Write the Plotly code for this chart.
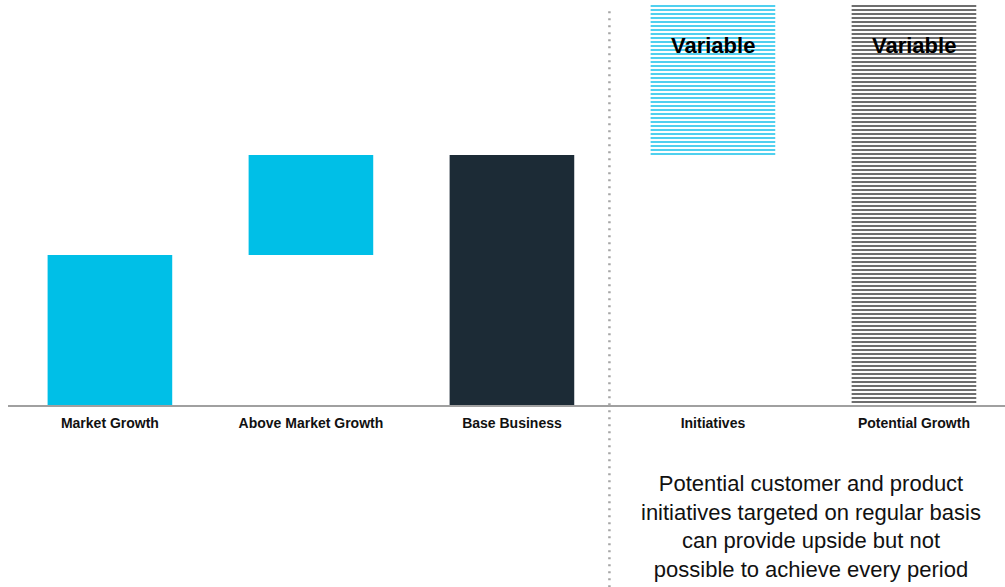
import plotly.graph_objects as go

categories = ["Market Growth", "Above Market Growth", "Base Business", "Initiatives", "Potential Growth"]
bar_bases = [0, 3, 0, 5, 0]
bar_values = [3, 2, 5, 3, 8]
solid_colors = {"Market Growth": "#00BFE7", "Above Market Growth": "#00BFE7", "Base Business": "#1C2B36"}
pattern_colors = {"Initiatives": "#3CCBEE", "Potential Growth": "#5E5E5E"}
variable_labels = ["", "", "", "Variable", "Variable"]
note_lines = [
    "Potential customer and product",
    "initiatives targeted on regular basis",
    "can provide upside but not",
    "possible to achieve every period",
]

FONT = "Liberation Sans, Arial, sans-serif"
x_range = [-0.507, 4.453]
y_range = [0, 8.1]

fig = go.Figure()

solid_x = [c for c in categories if c in solid_colors]
fig.add_trace(go.Bar(
    x=solid_x,
    y=[bar_values[categories.index(c)] for c in solid_x],
    base=[bar_bases[categories.index(c)] for c in solid_x],
    width=0.62,
    marker=dict(color=[solid_colors[c] for c in solid_x], line=dict(width=0)),
    hoverinfo="skip",
))

for c, fg in pattern_colors.items():
    i = categories.index(c)
    fig.add_trace(go.Bar(
        x=[c], y=[bar_values[i]], base=[bar_bases[i]],
        width=0.62,
        marker=dict(
            color="#FFFFFF",
            line=dict(width=0),
            pattern=dict(shape="-", fgcolor=fg, bgcolor="#FFFFFF",
                         size=4, solidity=0.45, fillmode="replace"),
        ),
        hoverinfo="skip",
    ))

for cat, b, v, lab in zip(categories, bar_bases, bar_values, variable_labels):
    if lab:
        fig.add_annotation(
            x=cat, y=b + v, text=lab, showarrow=False,
            yanchor="middle", yshift=-40,
            font=dict(family=FONT, size=22, color="#000000", weight="bold"),
        )

# dotted separator between base business and initiatives
sep_x = (2.485 - x_range[0]) / (x_range[1] - x_range[0])
fig.add_shape(
    type="line", xref="paper", yref="paper",
    x0=sep_x, x1=sep_x, y0=-0.45, y1=0.98,
    line=dict(color="#A6A6A6", width=2.5, dash="2px,5px"),
)

fig.add_annotation(
    xref="paper", yref="paper",
    x=(3.49 - x_range[0]) / (x_range[1] - x_range[0]), y=-0.301,
    text="<br>".join(note_lines), showarrow=False,
    xanchor="center", yanchor="middle", align="center",
    font=dict(family=FONT, size=22, color="#111111"),
)

fig.update_layout(
    width=1005, height=587,
    margin=dict(l=8, r=0, t=0, b=182),
    paper_bgcolor="white", plot_bgcolor="white",
    showlegend=False,
    barmode="overlay",
    hovermode=False,
    xaxis=dict(
        range=x_range, showline=True, linecolor="#A0A0A0", linewidth=1.5,
        ticks="outside", ticklen=4, tickcolor="rgba(0,0,0,0)", showgrid=False, zeroline=False,
        tickfont=dict(family=FONT, size=14, color="#111111", weight="bold"),
    ),
    yaxis=dict(range=y_range, visible=False, showgrid=False, zeroline=False),
)

fig.write_html("out.html", config={"displayModeBar": False},
               post_script="document.body.style.margin='0px';")
